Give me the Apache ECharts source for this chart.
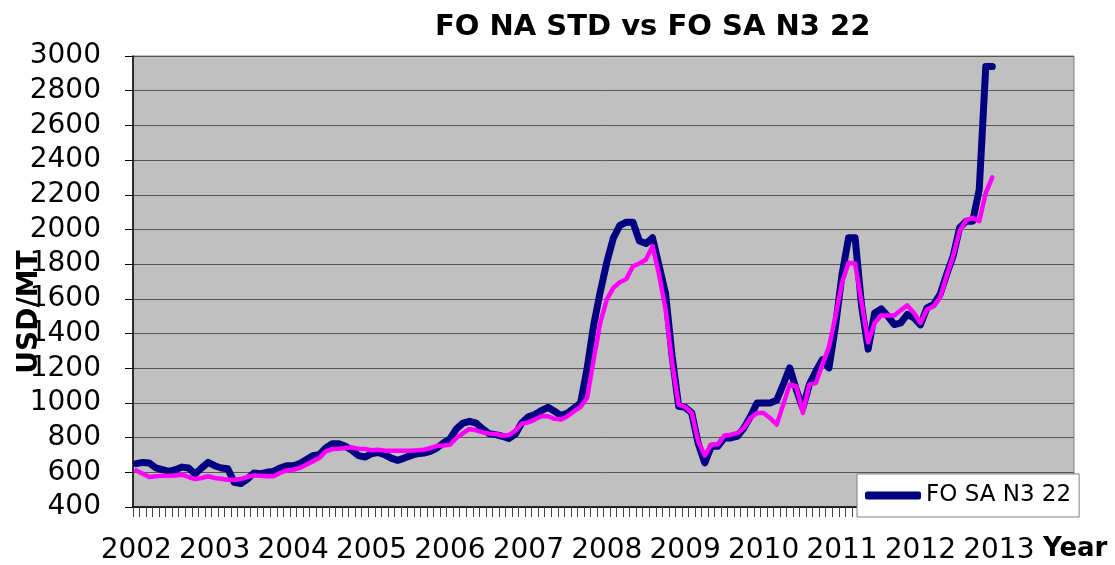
<!DOCTYPE html>
<html><head><meta charset="utf-8">
<script src="https://cdn.jsdelivr.net/npm/echarts@6/dist/echarts.min.js"></script>
<style>html,body{margin:0;padding:0;background:#fff}#c{width:1115px;height:565px}</style>
</head><body><div id="c"></div>
<script>
// Tick labels (years) and monthly categories
const years = ['2002','2003','2004','2005','2006','2007','2008','2009','2010','2011','2012','2013'];
const monthsOfYear = ['01','02','03','04','05','06','07','08','09','10','11','12'];
const categories = [];
years.forEach(y => monthsOfYear.forEach(m => categories.push(y + '-' + m)));

// FO SA N3 22 (navy), monthly from Jan 2002
const foSaN322 = [
 650,657,654,625,615,605,615,630,625,590,625,657,
 638,625,620,542,535,561,596,592,600,605,625,638,
 638,650,673,696,702,740,765,765,750,727,696,688,
 707,715,702,682,669,682,696,707,711,721,740,769,
 792,850,884,894,884,850,823,817,808,795,820,885,
 920,933,956,975,952,927,942,971,1000,1200,1450,1640,
 1810,1950,2023,2042,2042,1933,1919,1952,1790,1630,1270,981,
 975,942,765,654,750,750,798,798,808,856,923,1000,
 1000,1000,1015,1106,1202,1077,971,1106,1183,1250,1202,1442,
 1740,1952,1952,1558,1310,1519,1542,1500,1452,1462,1510,1490,
 1450,1548,1567,1625,1740,1846,2010,2048,2048,2230,2940,2940
];
// FO NA STD (magenta), monthly from Jan 2002
const foNaStd = [
 611,592,573,577,580,580,582,586,573,561,567,577,
 567,563,557,557,561,573,582,580,577,577,596,611,
 615,625,644,663,682,721,734,736,740,744,736,734,
 727,730,725,725,725,725,725,727,730,740,753,755,
 759,798,826,850,842,830,823,821,812,815,840,880,
 888,904,923,923,908,904,923,952,977,1030,1250,1461,
 1596,1663,1696,1715,1788,1804,1827,1904,1740,1538,1231,990,
 977,942,779,696,760,760,812,817,827,856,913,942,
 942,913,875,990,1106,1096,942,1106,1115,1221,1323,1500,
 1692,1808,1804,1577,1350,1462,1504,1504,1504,1535,1562,1519,
 1462,1538,1558,1606,1731,1846,1990,2054,2067,2048,2211,2300
];

const FONT = 'DejaVu Sans';
const chart = echarts.init(document.getElementById('c'), null, {renderer:'canvas'});
chart.setOption({
  animation: false,
  backgroundColor: '#ffffff',
  textStyle: {fontFamily: FONT},
  title: {
    text: 'FO NA STD vs FO SA N3 22',
    left: 430, top: 8,
    textStyle: {fontFamily: FONT, fontSize: 29, fontWeight: 'bold', color: '#000'}
  },
  grid: {
    left: 133, right: 41, top: 56, bottom: 58,
    show: true, backgroundColor: '#C0C0C0', borderColor: '#808080', borderWidth: 1
  },
  legend: {
    data: [{name: 'FO SA N3 22', icon: 'roundRect'}],
    left: 857, top: 474,
    itemWidth: 56, itemHeight: 8, itemGap: 6,
    padding: [10, 8, 10, 8],
    backgroundColor: '#ffffff', borderColor: '#808080', borderWidth: 1,
    textStyle: {fontFamily: FONT, fontSize: 23, color: '#000'},
    z: 10
  },
  xAxis: {
    type: 'category',
    data: categories,
    boundaryGap: true,
    axisLine: {show: true, lineStyle: {color: '#000', width: 1.5}},
    axisTick: {show: true, interval: 0, length: 10, lineStyle: {color: '#444', width: 1}},
    axisLabel: {
      interval: 11, margin: 30, fontSize: 28, color: '#000', fontFamily: FONT,
      formatter: v => v.slice(0, 4)
    },
    splitLine: {show: false}
  },
  yAxis: {
    type: 'value',
    min: 400, max: 3000, interval: 200,
    axisLine: {show: true, lineStyle: {color: '#000', width: 1.5}},
    axisTick: {show: true, length: 8, lineStyle: {color: '#000'}},
    axisLabel: {margin: 32, fontSize: 28, color: '#000', fontFamily: FONT,
                formatter: v => String(v)},
    splitLine: {show: true, lineStyle: {color: '#555', width: 1}}
  },
  graphic: [
    {type: 'text', x: 30, y: 312, rotation: Math.PI / 2,
     style: {text: 'USD/MT', fontFamily: FONT, fontSize: 28, fontWeight: 'bold', fill: '#000',
             textAlign: 'center', textVerticalAlign: 'middle'}},
    {type: 'text', left: 1043, top: 536,
     style: {text: 'Year', fontFamily: FONT, fontSize: 26, fontWeight: 'bold', fill: '#000'}}
  ],
  series: [
    {name: 'FO SA N3 22', type: 'line', data: foSaN322, showSymbol: false, symbol: 'none',
     lineStyle: {color: '#000080', width: 7, cap: 'round', join: 'round'},
     itemStyle: {color: '#000080'}, z: 2},
    {name: 'FO NA STD', type: 'line', data: foNaStd, showSymbol: false, symbol: 'none',
     lineStyle: {color: '#FF00FF', width: 4.5, cap: 'round', join: 'round'},
     itemStyle: {color: '#FF00FF'}, z: 3}
  ]
});
</script></body></html>
